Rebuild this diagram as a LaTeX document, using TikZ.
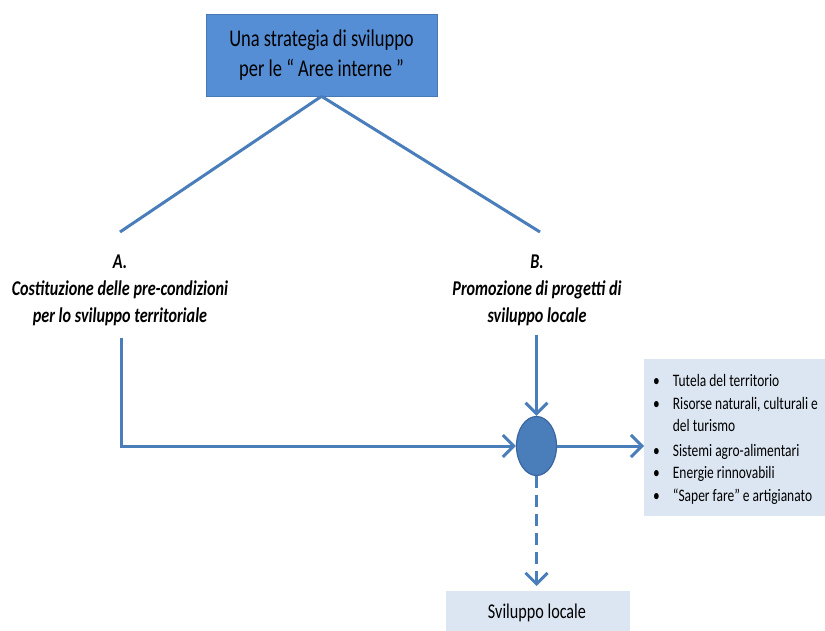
\documentclass[tikz,border=0pt]{standalone}
\usepackage{fontspec}
\setmainfont{Carlito}[FakeStretch=0.77]
\usetikzlibrary{arrows.meta,shapes.geometric}
\definecolor{mainblue}{HTML}{558ED5}
\definecolor{lineblue}{HTML}{4A7EBB}
\definecolor{darkblue}{HTML}{3A65A0}
\definecolor{paleblue}{HTML}{DCE6F2}
\tikzset{
  conn/.style={draw=lineblue, line width=3pt},
  arr/.style={conn, -{Straight Barb[length=11pt,width=22pt,line width=3pt]}},
  headbox/.style={rectangle, fill=mainblue, draw=mainblue!85!black, line width=0.6pt,
    minimum width=231pt, minimum height=82pt, inner sep=0pt, align=center,
    font=\fontsize{24}{30}\selectfont},
  branch/.style={align=center, inner sep=0pt, font=\fontsize{21}{27}\selectfont\bfseries\itshape},
  hub/.style={ellipse, fill=lineblue, draw=darkblue, line width=1.2pt,
    minimum width=40pt, minimum height=59pt, inner sep=0pt},
  palebox/.style={rectangle, fill=paleblue, inner sep=0pt}
}
\begin{document}
\begin{tikzpicture}[x=1pt,y=-1pt]
\useasboundingbox (0,0) rectangle (825,631);
% boxes
\node[headbox] (top) at (321.5,55) {Una strategia di sviluppo\\per le \textquotedblleft\ Aree interne \textquotedblright};
\node[palebox, minimum width=181pt, minimum height=157pt, anchor=north west] (list) at (644,359) {};
\node[anchor=north west, inner sep=0pt, align=left] (listtxt) at (653,371)
  {\fontsize{17.5}{22.5}\selectfont
   \begin{tabular}{@{}l@{\hspace{13pt}}l@{}}
   \textbullet & Tutela del territorio\\
   \textbullet & Risorse naturali, culturali e\\
               & del turismo\\[2pt]
   \textbullet & Sistemi agro-alimentari\\
   \textbullet & Energie rinnovabili\\
   \textbullet & \textquotedblleft Saper fare\textquotedblright\ e artigianato
   \end{tabular}};
\node[palebox, minimum width=184pt, minimum height=40pt, anchor=north west] (loc) at (446,591) {};
\node[inner sep=0pt, anchor=base, font=\fontsize{21}{25}\selectfont] (loctxt) at (537,618) {Sviluppo locale};
% branch texts
\node[branch] (A) at (120,290) {A.\\Costituzione delle pre-condizioni\\per lo sviluppo territoriale};
\node[branch] (B) at (537,290) {B.\\Promozione di progetti di\\sviluppo locale};
\node[hub] (hub) at (536.5,446) {};
% coordinates
\coordinate (aTop) at (120,232);
\coordinate (bTop) at (540,232);
\coordinate (aBot) at (121,338);
\coordinate (bBot) at (536.5,335);
\coordinate (dashEnd) at (536.5,586);
% connectors
\draw[conn] (top.south) -- (aTop);
\draw[conn] (top.south) -- (bTop);
\draw[arr] (aBot) |- (hub.west);
\draw[arr] (bBot) -- (hub.north);
\draw[arr] (hub.east) -- (hub.east -| list.west);
\draw[arr, dash pattern=on 12pt off 7pt] (hub.south) -- (dashEnd);
\end{tikzpicture}
\end{document}
